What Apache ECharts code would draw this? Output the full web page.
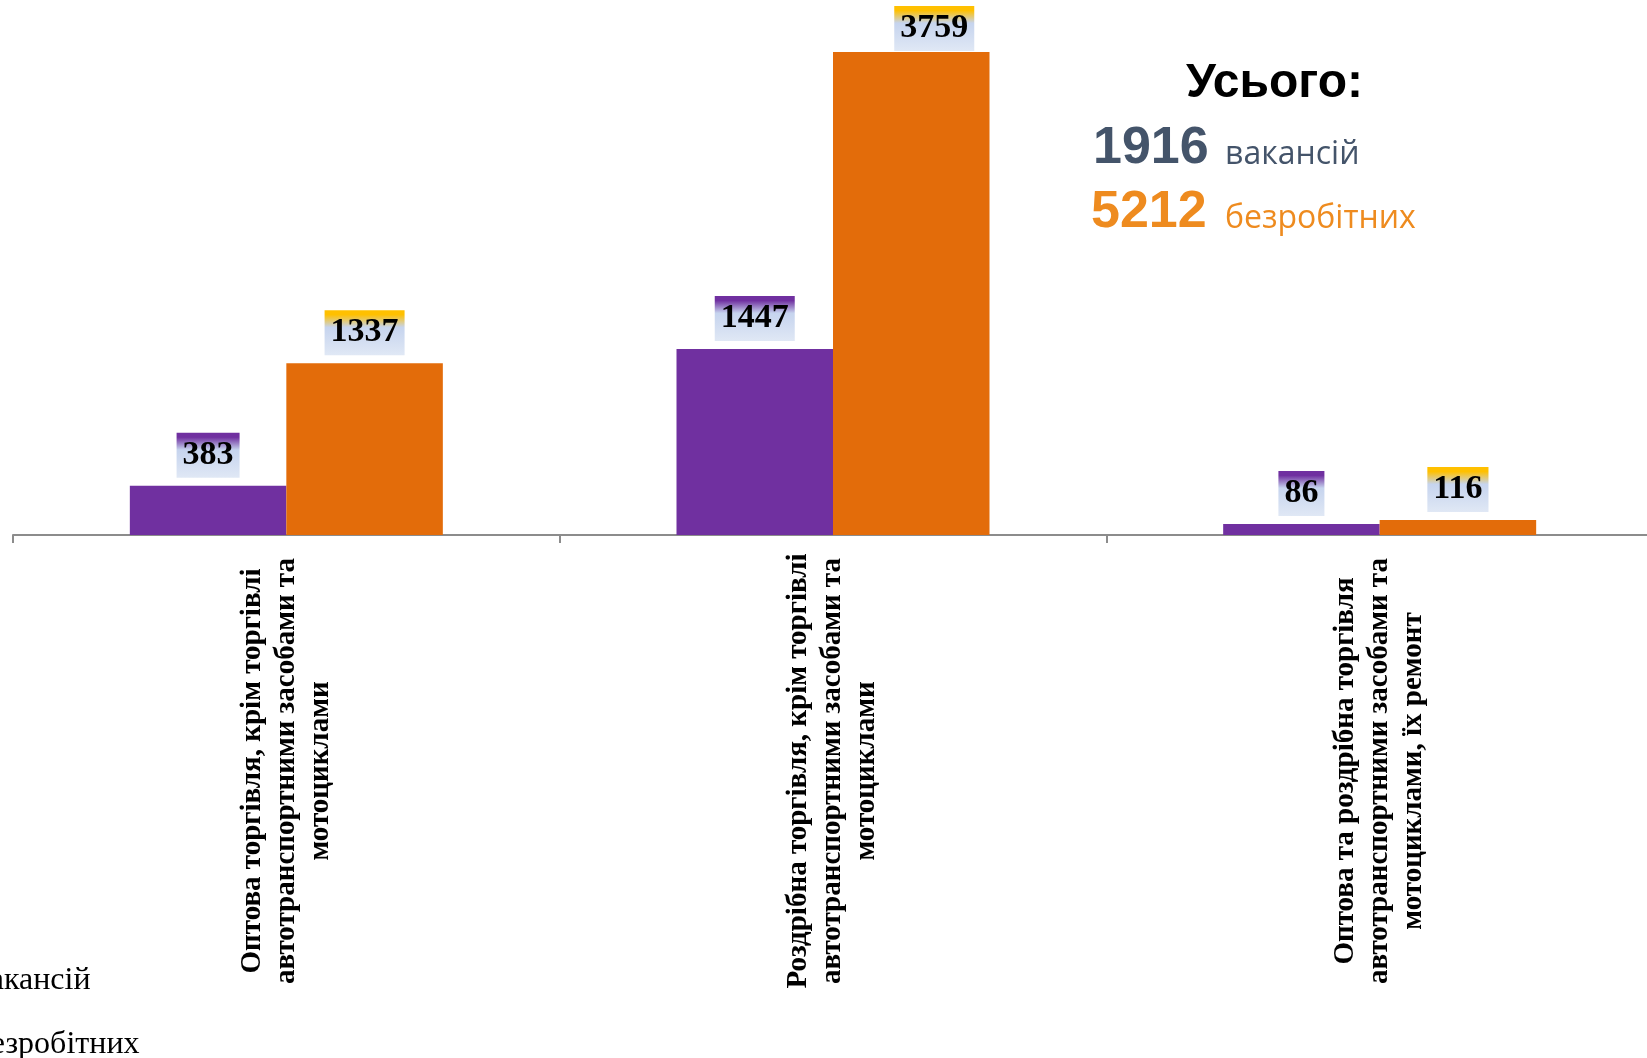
<!DOCTYPE html>
<html>
<head>
<meta charset="utf-8">
<script src="https://cdn.jsdelivr.net/npm/echarts@6/dist/echarts.min.js"></script>
<style>
html,body{margin:0;padding:0;background:#fff;}
#chart{width:1647px;height:1058px;}
</style>
</head>
<body>
<div id="chart"></div>
<script>
const categories = [
  'Оптова торгівля, крім торгівлі\nавтотранспортними засобами та\nмотоциклами',
  'Роздрібна торгівля, крім торгівлі\nавтотранспортними засобами та\nмотоциклами',
  'Оптова та роздрібна торгівля\nавтотранспортними засобами та\nмотоциклами, їх ремонт'
];
const seriesNames = ['вакансій', 'безробітних'];
const vacancies = [383, 1447, 86];
const unemployed = [1337, 3759, 116];
const totalLabel = 'Усього:';
const totalVacancies = 1916;
const totalUnemployed = 5212;

function grad(top){
  return {type:'linear',x:0,y:0,x2:0,y2:1,colorStops:[
    {offset:0,color:top},{offset:0.1,color:top},
    {offset:0.38,color:'#C6D4EE'},{offset:1,color:'#E0E8F5'}]};
}
const labelBase = {
  show:true, position:'top', distance:8,
  fontFamily:'Liberation Serif', fontWeight:'bold', fontSize:34, lineHeight:37,
  color:'#000', padding:[4,6,4,6]
};

// the tallest label sits just above its bar and slightly to the right, as in the source
const unemployedData = unemployed.map(function(v, i){
  if (i === 1) return {value:v, label:{distance:1, offset:[23,0]}};
  return v;
});

const chart = echarts.init(document.getElementById('chart'));
chart.setOption({
  animation:false,
  backgroundColor:'#fff',
  grid:{left:13, top:21, width:1640, height:514, outerBoundsMode:'none', containLabel:false},
  legend:{
    orient:'vertical', left:-55, top:965, width:400, height:200, padding:0, itemGap:32,
    itemWidth:25, itemHeight:14,
    textStyle:{fontFamily:'Liberation Serif', fontSize:32, lineHeight:32, color:'#000'},
    data:seriesNames
  },
  xAxis:{
    type:'category', data:categories,
    axisLine:{show:true, lineStyle:{color:'#8C8C8C', width:2}},
    axisTick:{show:true, length:8, alignWithLabel:false, lineStyle:{color:'#8C8C8C', width:2}},
    axisLabel:{
      interval:0, rotate:90, align:'center', verticalAlign:'middle', margin:236,
      padding:[11,0,0,0],
      fontFamily:'Liberation Serif', fontWeight:'bold', fontSize:29, lineHeight:34, color:'#000'
    }
  },
  yAxis:{type:'value', min:0, max:4000, show:false, splitLine:{show:false}},
  series:[
    {name:seriesNames[0], type:'bar', data:vacancies, barWidth:156.5, barGap:'0%',
     itemStyle:{color:'#7030A0'},
     label:Object.assign({}, labelBase, {backgroundColor:grad('#7030A0')})},
    {name:seriesNames[1], type:'bar', data:unemployedData, barWidth:156.5, barGap:'0%',
     itemStyle:{color:'#E36C0A'},
     label:Object.assign({}, labelBase, {backgroundColor:grad('#FFC000')})}
  ],
  graphic:[
    {type:'text', x:1274.5, y:84, style:{text:totalLabel, align:'center', verticalAlign:'middle',
      font:'bold 48px "Liberation Sans"', fill:'#000'}},
    {type:'text', x:1093, y:149, style:{text:String(totalVacancies), align:'left', verticalAlign:'middle',
      font:'bold 52px "Liberation Sans"', fill:'#44546A'}},
    {type:'text', x:1225, y:155, style:{text:seriesNames[0], align:'left', verticalAlign:'middle',
      font:'32px "Open Sans"', fill:'#44546A'}},
    {type:'text', x:1091, y:213, style:{text:String(totalUnemployed), align:'left', verticalAlign:'middle',
      font:'bold 52px "Liberation Sans"', fill:'#EE8B1F'}},
    {type:'text', x:1225, y:219, style:{text:seriesNames[1], align:'left', verticalAlign:'middle',
      font:'32px "Open Sans"', fill:'#EE8B1F'}}
  ]
});
</script>
</body>
</html>
